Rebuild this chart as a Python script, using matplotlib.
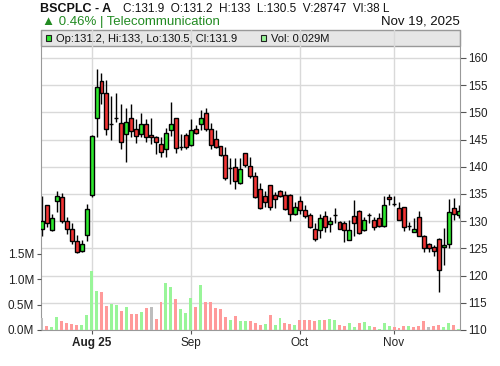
import matplotlib
matplotlib.use("Agg")
import matplotlib.pyplot as plt
from matplotlib.patches import Rectangle

plt.rcParams['font.family'] = ['Liberation Sans', 'DejaVu Sans']

opens = [128.5, 133.0, 128.3, 133.7, 134.4, 130.1, 128.5, 126.4, 124.5, 127.5,
         134.9, 149.0, 155.8, 153.6, 147.9, 149.0, 148.1, 146.0, 148.9, 147.0,
         146.0, 147.9, 145.9, 145.4, 144.1, 143.2, 146.8, 148.9, 143.7, 145.8,
         144.0, 146.9, 147.9, 149.9, 146.9, 145.1, 143.8, 142.1, 139.7, 139.9,
         137.0, 142.5, 140.1, 138.3, 135.9, 134.6, 136.6, 134.8, 135.5, 134.9,
         134.8, 131.3, 133.8, 132.0, 131.1, 128.5, 128.4, 131.0, 129.5, 131.1,
         129.9, 129.7, 126.6, 131.0, 131.9, 128.4, 131.1, 130.3, 130.6, 129.2,
         134.5, 133.1, 132.5, 132.6, 129.1, 128.1, 130.7, 127.3, 125.9, 125.3,
         126.7, 125.2, 125.9, 132.5, 131.2]
highs = [134.7, 133.0, 131.3, 135.5, 135.1, 130.7, 129.6, 127.5, 126.5, 133.1,
         145.8, 157.9, 157.3, 155.9, 153.0, 153.6, 151.6, 150.8, 151.5, 148.7,
         149.8, 148.7, 148.9, 145.6, 145.5, 147.2, 152.0, 149.0, 146.0, 146.2,
         148.7, 147.6, 150.4, 150.9, 148.0, 146.8, 143.9, 143.7, 141.6, 141.6,
         141.6, 142.6, 141.8, 139.1, 137.0, 135.5, 136.7, 135.4, 135.8, 135.5,
         135.0, 133.6, 134.7, 133.0, 131.5, 129.6, 131.4, 131.9, 130.8, 132.5,
         130.0, 130.0, 130.3, 133.9, 132.0, 130.8, 131.5, 130.7, 131.5, 134.7,
         135.0, 134.7, 133.6, 132.7, 129.8, 130.5, 131.9, 127.4, 126.0, 125.6,
         127.0, 128.8, 134.0, 134.2, 133.0]
lows = [127.3, 128.9, 128.2, 131.7, 129.6, 127.7, 125.9, 124.2, 124.3, 126.3,
        134.5, 145.5, 151.6, 145.9, 145.0, 148.2, 143.3, 140.9, 145.5, 144.4,
        145.4, 144.5, 144.1, 142.3, 141.8, 141.8, 145.7, 142.6, 143.1, 143.2,
        143.8, 146.0, 146.8, 146.5, 143.2, 143.4, 142.0, 137.5, 136.8, 135.9,
        136.9, 140.0, 137.9, 134.3, 132.2, 132.7, 132.0, 132.4, 134.4, 132.0,
        130.1, 131.1, 131.4, 130.6, 128.7, 126.3, 127.0, 128.0, 128.1, 129.7,
        128.5, 126.2, 126.6, 127.3, 127.7, 128.2, 129.7, 128.4, 129.0, 129.0,
        133.0, 132.8, 130.2, 128.2, 128.4, 128.0, 127.2, 124.3, 124.3, 123.6,
        116.9, 121.9, 125.0, 130.2, 130.5]
closes = [130.1, 129.6, 130.6, 134.6, 130.0, 128.5, 126.3, 124.4, 125.8, 132.2,
          145.7, 154.6, 153.6, 147.0, 147.9, 149.0, 144.6, 148.3, 146.5, 145.7,
          147.8, 145.4, 145.4, 144.6, 142.8, 146.3, 147.8, 143.4, 143.7, 143.7,
          146.7, 146.2, 148.9, 146.9, 144.0, 143.6, 142.1, 137.9, 139.7, 137.4,
          139.6, 140.3, 138.4, 134.4, 132.4, 133.5, 132.6, 134.1, 134.7, 132.2,
          131.3, 132.6, 132.0, 130.9, 128.9, 126.7, 130.6, 129.0, 130.1, 131.1,
          128.6, 128.4, 128.4, 129.7, 127.9, 130.3, 131.1, 129.0, 129.2, 133.0,
          134.1, 133.1, 130.3, 129.0, 129.1, 128.6, 127.3, 125.1, 125.1, 124.5,
          121.1, 125.7, 131.7, 131.3, 131.9]
volumes = [0.23, 0.08, 0.06, 0.25, 0.175, 0.136, 0.117, 0.097, 0.097, 0.29,
           1.15, 0.76, 0.74, 0.47, 0.51, 0.49, 0.37, 0.45, 0.31, 0.31,
           0.35, 0.43, 0.45, 0.21, 0.55, 0.92, 0.84, 0.60, 0.41, 0.33,
           0.62, 0.45, 0.88, 0.55, 0.55, 0.43, 0.41, 0.25, 0.19, 0.27,
           0.175, 0.175, 0.175, 0.136, 0.097, 0.117, 0.29, 0.097, 0.23, 0.136,
           0.117, 0.097, 0.19, 0.19, 0.19, 0.175, 0.19, 0.19, 0.21, 0.19,
           0.097, 0.078, 0.136, 0.06, 0.136, 0.156, 0.078, 0.058, 0.02, 0.136,
           0.078, 0.058, 0.04, 0.078, 0.078, 0.058, 0.078, 0.175, 0.058, 0.078,
           0.097, 0.058, 0.136, 0.097, 0.029]
# close vs previous close: u=up, d=down, n=unchanged
vol_dirs = ("nduudddduu" "uudduududd" "udndduuduu" "ududddddud" "uuddduduud"
            "dudddduduu" "dduuduuduu" "udddudddnd" "duudu")

month_pos = [10, 30, 52, 71]
month_labels = ["Aug 25", "Sep", "Oct", "Nov"]

up_col, down_col = "#2ee82e", "#f23333"
vol_cols = {"u": "#99f599", "d": "#ff9a9a", "n": "#bdbdbd"}

fig = plt.figure(figsize=(5, 3.66), dpi=100)
ax = fig.add_axes([41 / 500, 36 / 366, 419 / 500, 300 / 366])
axv = ax.twinx()

n = len(closes)
xs = list(range(n))

# candles
for i in xs:
    o, h, l, c = opens[i], highs[i], lows[i], closes[i]
    ax.vlines(i, l, h, color="black", linewidth=1.0, zorder=2)
    col = up_col if c > o else down_col
    ax.bar(i, abs(c - o), bottom=min(o, c), width=0.8, color=col,
           edgecolor="black", linewidth=1.0, zorder=3)

ax.set_xlim(-0.2, 84.3)
ax.set_ylim(110, 110 + 300 / 5.44)
ax.set_yticks(range(110, 161, 5))
ax.yaxis.tick_right()
ax.set_axisbelow(True)
ax.grid(True, color="#d9d9d9", linewidth=1.0)
ax.set_xticks(month_pos)
ax.set_xticklabels(month_labels)
ax.get_xticklabels()[0].set_fontweight("bold")
ax.tick_params(axis="x", length=3, color="#555", labelsize=8.5, labelcolor="#222", pad=2)
ax.tick_params(axis="y", length=4, color="#555", labelsize=8.4, labelcolor="#222", pad=2)
for s in ax.spines.values():
    s.set_color("#999999")
ax.spines["top"].set_visible(False)

# legend strip
ax.add_patch(Rectangle((0, 1 - 16 / 300), 1, 16 / 300, transform=ax.transAxes,
                       facecolor="#e6e6e6", edgecolor="#999999", linewidth=1.0,
                       zorder=0.4, clip_on=False))

# volume
axv.bar(xs, volumes, width=0.6, color=[vol_cols[d] for d in vol_dirs], zorder=2)
axv.set_ylim(0, 300 / 51)
axv.set_yticks([0, 0.5, 1.0, 1.5])
axv.set_yticklabels(["%.1fM" % v for v in [0, 0.5, 1.0, 1.5]])
axv.yaxis.tick_left()
axv.tick_params(axis="y", length=3, color="#555", labelsize=8.5, labelcolor="#222", pad=2)
for s in axv.spines.values():
    s.set_visible(False)

# header
def px(x, y):
    return x / 500, 1 - y / 366

fig.text(*px(40, 12), "BSCPLC - A", fontsize=9, fontweight="bold", color="#111", va="baseline")
fig.text(*px(123, 12), "C:131.9  O:131.2  H:133  L:130.5  V:28747  Vl:38 L",
         fontsize=8.5, color="#111", va="baseline")
fig.text(*px(42, 25), "\u25b2 0.46% | Telecommunication", fontsize=9.5,
         color="#228b22", va="baseline")
fig.text(*px(460, 25), "Nov 19, 2025", fontsize=9.5, color="#111",
         va="baseline", ha="right")

fig.add_artist(Rectangle(px(46, 41), 5 / 500, 6 / 366, transform=fig.transFigure,
                         facecolor=up_col, edgecolor="#222", linewidth=0.8))
fig.text(*px(56, 41.5), "Op:131.2, Hi:133, Lo:130.5, Cl:131.9", fontsize=8.0,
         color="#111", va="baseline")
fig.add_artist(Rectangle(px(261, 41), 5 / 500, 6 / 366, transform=fig.transFigure,
                         facecolor="#99f599", edgecolor="#222", linewidth=0.8))
fig.text(*px(271, 41.5), "Vol: 0.029M", fontsize=8.0, color="#111", va="baseline")

fig.savefig("out.png", dpi=100)
